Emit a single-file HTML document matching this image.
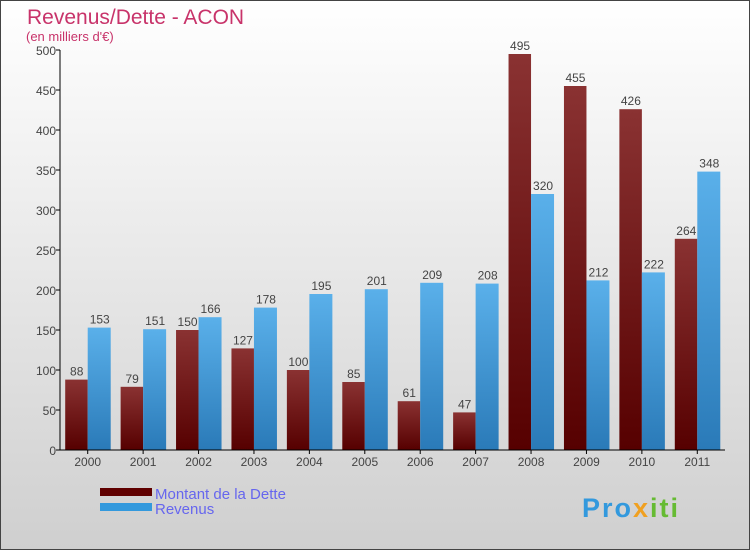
<!DOCTYPE html>
<html><head><meta charset="utf-8"><style>
html,body{margin:0;padding:0}
body{width:750px;height:550px;overflow:hidden;font-family:"Liberation Sans",sans-serif}
</style></head><body>
<svg id="c" width="750" height="550" xmlns="http://www.w3.org/2000/svg">
<defs>
<linearGradient id="bg" x1="0" y1="0" x2="0" y2="1"><stop offset="0" stop-color="#ffffff"/><stop offset="1" stop-color="#cfcfcf"/></linearGradient>
<linearGradient id="gr" x1="0" y1="0" x2="0" y2="1"><stop offset="0" stop-color="#8a3232"/><stop offset="1" stop-color="#560000"/></linearGradient>
<linearGradient id="gb" x1="0" y1="0" x2="0" y2="1"><stop offset="0" stop-color="#5ab0ea"/><stop offset="1" stop-color="#2a7ab8"/></linearGradient>
</defs>
<rect x="0.5" y="0.5" width="749" height="549" fill="url(#bg)" stroke="#444"/>
<text x="27" y="24" font-size="21" fill="#c8336a">Revenus/Dette - ACON</text>
<text x="26" y="41" font-size="13" fill="#c8336a">(en milliers d'€)</text>
<g id="plot"></g>
<rect x="100" y="488" width="52" height="8" fill="#600000"/>
<text x="155" y="499" font-size="15" fill="#6666ee">Montant de la Dette</text>
<rect x="100" y="503" width="52" height="8" fill="#3399dd"/>
<text x="155" y="514" font-size="15" fill="#6666ee">Revenus</text>
<text x="582" y="517" font-size="27" font-weight="bold" letter-spacing="2" fill="#3399dd">Pro<tspan fill="#f0a020">x</tspan><tspan fill="#66bb33">iti</tspan></text>
</svg>
<script>
const years=["2000","2001","2002","2003","2004","2005","2006","2007","2008","2009","2010","2011"];
const dette=[88,79,150,127,100,85,61,47,495,455,426,264];
const revenus=[153,151,166,178,195,201,209,208,320,212,222,348];
const yTicks=[0,50,100,150,200,250,300,350,400,450,500];
const NS="http://www.w3.org/2000/svg";
const g=document.getElementById('plot');
const L=60,R=725,T=50,B=450,MAX=500;
const bw=(R-L)/years.length;
const y=v=>B-(v/MAX)*(B-T);
const xc=i=>L+bw*(i+0.5);
function mk(t,a){const e=document.createElementNS(NS,t);for(const k in a)e.setAttribute(k,a[k]);g.appendChild(e);return e;}
yTicks.forEach(v=>{
 const l=mk('line',{x1:L-4,x2:L,y1:y(v),y2:y(v),stroke:'#000'});
 
 
 const t=mk('text',{x:L-4,y:y(v)+5,'text-anchor':'end','font-size':12,fill:'#444'});t.textContent=v;
 
 
});
years.forEach((yr,i)=>{
 const c=xc(i);
 const r1=mk('rect',{x:c-22.5,y:y(dette[i]),width:22.5,height:B-y(dette[i]),fill:'url(#gr)'});
 
 
 const r2=mk('rect',{x:c,y:y(revenus[i]),width:23,height:B-y(revenus[i]),fill:'url(#gb)'});
 
 
 const t1=mk('text',{x:c-11,y:y(dette[i])-4,'text-anchor':'middle','font-size':12,fill:'#444'});t1.textContent=dette[i];
 
 
 const t2=mk('text',{x:c+12,y:y(revenus[i])-4,'text-anchor':'middle','font-size':12,fill:'#444'});t2.textContent=revenus[i];
 
 
 const tk=mk('line',{x1:c,x2:c,y1:B,y2:B+4,stroke:'#000'});
 
 
 const tl=mk('text',{x:c,y:B+16,'text-anchor':'middle','font-size':12,fill:'#444'});tl.textContent=yr;
 
 
});
const ya=mk('line',{x1:L,x2:L,y1:T,y2:B,stroke:'#000'});


const xa=mk('line',{x1:L,x2:R,y1:B,y2:B,stroke:'#000'});


</script>
</body></html>
